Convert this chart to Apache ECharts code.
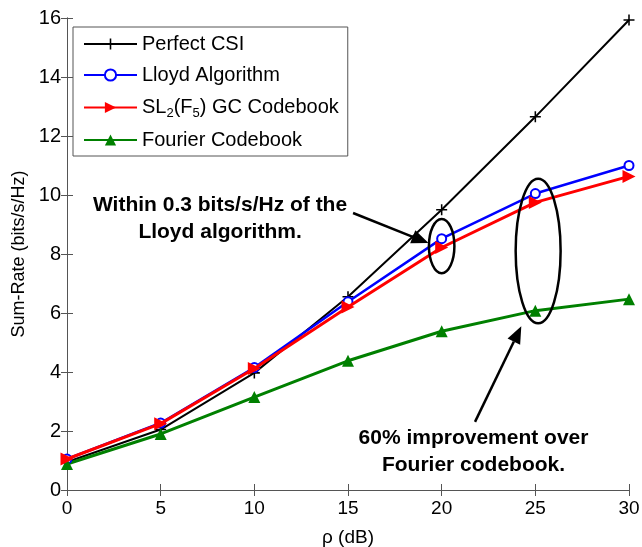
<!DOCTYPE html>
<html>
<head>
<meta charset="utf-8">
<script src="https://cdn.jsdelivr.net/npm/echarts@6/dist/echarts.min.js"></script>
<style>html,body{margin:0;padding:0;background:#fff;}#c{width:642px;height:547px;}</style>
</head>
<body>
<div id="c"></div>
<script>
var rho = [0, 5, 10, 15, 20, 25, 30];
var perfectCSI = [0.95, 2.05, 3.97, 6.55, 9.5, 12.65, 15.93];
var lloyd = [1.05, 2.27, 4.15, 6.38, 8.52, 10.05, 11.0];
var sl2 = [1.05, 2.25, 4.12, 6.2, 8.22, 9.75, 10.63];
var fourier = [0.88, 1.9, 3.15, 4.38, 5.38, 6.08, 6.47];
var xTicks = [0, 5, 10, 15, 20, 25, 30];
var yTicks = [0, 2, 4, 6, 8, 10, 12, 14, 16];
var seriesNames = ['Perfect CSI', 'Lloyd Algorithm', 'SL2(F5) GC Codebook', 'Fourier Codebook'];

function pairs(v) { return rho.map(function (x, i) { return [x, v[i]]; }); }

var FONT = 'Liberation Sans, Arial, sans-serif';
var plusPath = 'path://M-1,-0.14 L-0.14,-0.14 L-0.14,-1 L0.14,-1 L0.14,-0.14 L1,-0.14 L1,0.14 L0.14,0.14 L0.14,1 L-0.14,1 L-0.14,0.14 L-1,0.14 Z';
var rightTri = 'path://M0,0 L1,0.5 L0,1 Z';

var chart = echarts.init(document.getElementById('c'), null, {renderer: 'canvas'});

var AX = '#555';
var axisCommon = {
  type: 'value',
  axisLine: {show: true, lineStyle: {color: AX, width: 1}},
  axisTick: {show: true, inside: true, length: 6, lineStyle: {color: AX}},
  splitLine: {show: false}
};

var option = {
  animation: false,
  backgroundColor: '#fff',
  grid: {left: 67, right: 13, top: 18, bottom: 57, containLabel: false, outerBoundsMode: 'none'},
  xAxis: [
    Object.assign({}, axisCommon, {
      position: 'bottom', min: xTicks[0], max: xTicks[xTicks.length - 1], interval: 5,
      name: 'ρ (dB)', nameLocation: 'middle', nameGap: 38,
      nameTextStyle: {fontFamily: FONT, fontSize: 19, color: '#000'},
      axisLabel: {fontFamily: FONT, fontSize: 19, color: '#000', margin: 9}
    }),
    Object.assign({}, axisCommon, {
      position: 'top', min: xTicks[0], max: xTicks[xTicks.length - 1], interval: 5,
      axisLabel: {show: false}
    })
  ],
  yAxis: [
    Object.assign({}, axisCommon, {
      position: 'left', min: yTicks[0], max: yTicks[yTicks.length - 1], interval: 2,
      name: 'Sum-Rate (bits/s/Hz)', nameLocation: 'middle', nameGap: 39,
      nameTextStyle: {fontFamily: FONT, fontSize: 18, color: '#000'},
      axisLabel: {fontFamily: FONT, fontSize: 20, color: '#000', margin: 6}
    }),
    Object.assign({}, axisCommon, {
      position: 'right', min: yTicks[0], max: yTicks[yTicks.length - 1], interval: 2,
      axisLabel: {show: false}
    })
  ],
  legend: {
    orient: 'vertical', left: 73, top: 27,
    backgroundColor: '#fff', borderColor: AX, borderWidth: 1,
    padding: [6, 9, 5, 10], itemGap: 9, itemWidth: 53, itemHeight: 14,
    data: seriesNames,
    textStyle: {
      fontFamily: FONT, fontSize: 20, color: '#000', lineHeight: 22,
      rich: {
        s: {fontFamily: FONT, fontSize: 13, color: '#000', lineHeight: 22, padding: [12, 0, 0, 0]}
      }
    },
    formatter: function (n) {
      if (n === 'SL2(F5) GC Codebook') return 'SL{s|2}(F{s|5}) GC Codebook';
      return n;
    }
  },
  series: [
    {
      name: seriesNames[0], type: 'line', data: pairs(perfectCSI),
      symbol: plusPath, symbolSize: 11, z: 3,
      lineStyle: {color: '#000', width: 2}, itemStyle: {color: '#000'}
    },
    {
      name: seriesNames[1], type: 'line', data: pairs(lloyd),
      symbol: 'emptyCircle', symbolSize: 9, z: 4,
      lineStyle: {color: '#0000ff', width: 2.5}, itemStyle: {color: '#0000ff', borderWidth: 2}
    },
    {
      name: seriesNames[2], type: 'line', data: pairs(sl2),
      symbol: rightTri, symbolSize: 13, z: 5,
      lineStyle: {color: '#ff0000', width: 3}, itemStyle: {color: '#ff0000'}
    },
    {
      name: seriesNames[3], type: 'line', data: pairs(fourier),
      symbol: 'triangle', symbolSize: 12, z: 4,
      lineStyle: {color: '#008000', width: 3}, itemStyle: {color: '#008000'}
    }
  ]
};
chart.setOption(option);

// Annotations in data coordinates
var annoTexts = [
  {lines: ['Within 0.3 bits/s/Hz of the', 'Lloyd algorithm.'], at: [8.17, 9.2]},
  {lines: ['60% improvement over', 'Fourier codebook.'], at: [21.7, 1.3]}
];
var annoArrows = [
  {from: [15.27, 9.39], to: [19.3, 8.37]},
  {from: [21.78, 2.31], to: [24.25, 5.55]}
];
var annoEllipses = [
  {c: [20.0, 8.27], rx: 0.68, ry: 0.92},
  {c: [25.15, 8.1], rx: 1.2, ry: 2.45}
];

function px(p) { return chart.convertToPixel({gridIndex: 0}, p); }
var g = [];
annoTexts.forEach(function (t) {
  var c = px(t.at);
  g.push({
    type: 'text', x: c[0], y: c[1], z: 20,
    style: {
      text: t.lines.join('\n'), fontFamily: FONT, fontSize: 21, fontWeight: 'bold',
      fill: '#000', align: 'center', verticalAlign: 'middle', lineHeight: 27
    }
  });
});
annoEllipses.forEach(function (e) {
  var c = px(e.c);
  var a = px([e.c[0] + e.rx, e.c[1] + e.ry]);
  g.push({
    type: 'ellipse', z: 20,
    shape: {cx: c[0], cy: c[1], rx: Math.abs(a[0] - c[0]), ry: Math.abs(c[1] - a[1])},
    style: {fill: 'none', stroke: '#000', lineWidth: 2.5}
  });
});
annoArrows.forEach(function (ar) {
  var s = px(ar.from), e = px(ar.to);
  var dx = e[0] - s[0], dy = e[1] - s[1];
  var L = Math.sqrt(dx * dx + dy * dy), ux = dx / L, uy = dy / L;
  var hl = 17, hw = 7;
  var bx = e[0] - ux * hl, by = e[1] - uy * hl;
  g.push({
    type: 'line', z: 20,
    shape: {x1: s[0], y1: s[1], x2: bx, y2: by},
    style: {stroke: '#000', lineWidth: 2.5}
  });
  g.push({
    type: 'polygon', z: 20,
    shape: {points: [[e[0], e[1]], [bx - uy * hw, by + ux * hw], [bx + uy * hw, by - ux * hw]]},
    style: {fill: '#000'}
  });
});
chart.setOption({graphic: g});
</script>
</body>
</html>
